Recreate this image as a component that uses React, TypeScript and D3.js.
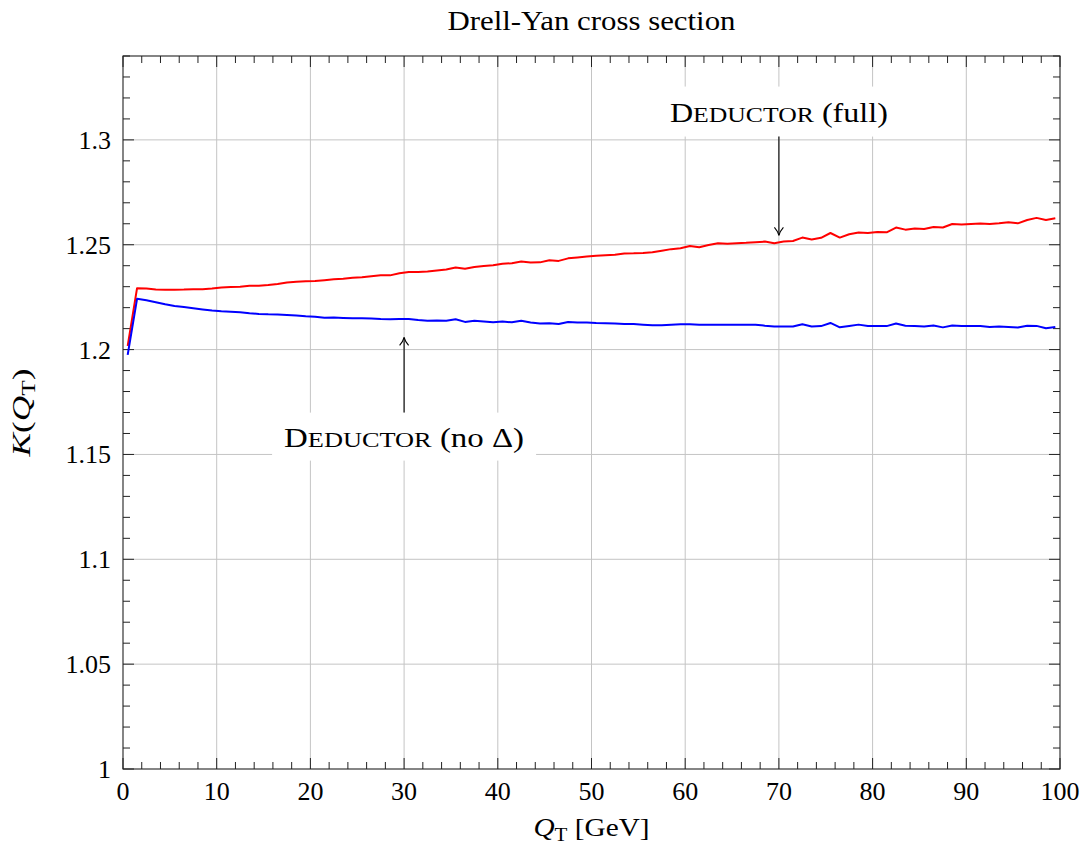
import React from "react";
import * as d3 from "d3";

const qT = [
  0.5, 1.5, 2.5, 3.5, 4.5, 5.5, 6.5, 7.5, 8.5, 9.5,
  10.5, 11.5, 12.5, 13.5, 14.5, 15.5, 16.5, 17.5, 18.5, 19.5,
  20.5, 21.5, 22.5, 23.5, 24.5, 25.5, 26.5, 27.5, 28.5, 29.5,
  30.5, 31.5, 32.5, 33.5, 34.5, 35.5, 36.5, 37.5, 38.5, 39.5,
  40.5, 41.5, 42.5, 43.5, 44.5, 45.5, 46.5, 47.5, 48.5, 49.5,
  50.5, 51.5, 52.5, 53.5, 54.5, 55.5, 56.5, 57.5, 58.5, 59.5,
  60.5, 61.5, 62.5, 63.5, 64.5, 65.5, 66.5, 67.5, 68.5, 69.5,
  70.5, 71.5, 72.5, 73.5, 74.5, 75.5, 76.5, 77.5, 78.5, 79.5,
  80.5, 81.5, 82.5, 83.5, 84.5, 85.5, 86.5, 87.5, 88.5, 89.5,
  90.5, 91.5, 92.5, 93.5, 94.5, 95.5, 96.5, 97.5, 98.5, 99.5,
];

const kFull = [
  1.2017, 1.2293, 1.2291, 1.2286, 1.2285, 1.2285, 1.2286, 1.2288, 1.2288, 1.2291,
  1.2296, 1.2299, 1.2300, 1.2304, 1.2305, 1.2308, 1.2313, 1.2320, 1.2323, 1.2326,
  1.2327, 1.2331, 1.2335, 1.2338, 1.2342, 1.2345, 1.2350, 1.2354, 1.2354, 1.2364,
  1.2370, 1.2370, 1.2372, 1.2377, 1.2382, 1.2391, 1.2386, 1.2394, 1.2399, 1.2402,
  1.2409, 1.2412, 1.2420, 1.2415, 1.2416, 1.2426, 1.2423, 1.2435, 1.2439, 1.2444,
  1.2448, 1.2450, 1.2452, 1.2458, 1.2459, 1.2461, 1.2464, 1.2471, 1.2479, 1.2483,
  1.2494, 1.2488, 1.2499, 1.2507, 1.2505, 1.2507, 1.2509, 1.2512, 1.2515, 1.2507,
  1.2515, 1.2518, 1.2534, 1.2525, 1.2533, 1.2556, 1.2534, 1.2550, 1.2558, 1.2556,
  1.2561, 1.2559, 1.2582, 1.2572, 1.2577, 1.2575, 1.2585, 1.2582, 1.2599, 1.2597,
  1.2599, 1.2601, 1.2599, 1.2602, 1.2607, 1.2602, 1.2618, 1.2628, 1.2618, 1.2626,
];

const kNoDelta = [
  1.1975, 1.2242, 1.2235, 1.2226, 1.2216, 1.2208, 1.2203, 1.2197, 1.2191, 1.2186,
  1.2183, 1.2181, 1.2178, 1.2173, 1.2170, 1.2168, 1.2167, 1.2165, 1.2162, 1.2159,
  1.2157, 1.2152, 1.2153, 1.2151, 1.2149, 1.2149, 1.2148, 1.2146, 1.2145, 1.2146,
  1.2146, 1.2141, 1.2137, 1.2139, 1.2138, 1.2145, 1.2132, 1.2137, 1.2134, 1.2130,
  1.2134, 1.2130, 1.2137, 1.2129, 1.2124, 1.2126, 1.2122, 1.2132, 1.2129, 1.2129,
  1.2127, 1.2126, 1.2124, 1.2122, 1.2122, 1.2119, 1.2116, 1.2116, 1.2119, 1.2121,
  1.2121, 1.2119, 1.2119, 1.2119, 1.2119, 1.2119, 1.2119, 1.2119, 1.2114, 1.2110,
  1.2110, 1.2110, 1.2121, 1.2110, 1.2112, 1.2127, 1.2106, 1.2113, 1.2119, 1.2113,
  1.2113, 1.2112, 1.2124, 1.2114, 1.2112, 1.2110, 1.2115, 1.2106, 1.2115, 1.2112,
  1.2112, 1.2113, 1.2108, 1.2110, 1.2108, 1.2105, 1.2114, 1.2113, 1.2102, 1.2108,
];

const xMajorTicks = [0, 10, 20, 30, 40, 50, 60, 70, 80, 90, 100];
const yMajorTicks = [1, 1.05, 1.1, 1.15, 1.2, 1.25, 1.3];
const xDomain: [number, number] = [0, 100];
const yDomain: [number, number] = [1, 1.34];
const titleText = "Drell-Yan cross section";

const W = 1087;
const H = 845;
const left = 123;
const right = 1060;
const top = 56;
const bottom = 769;
const FONT = "'Liberation Serif', 'Times New Roman', serif";

function SmallCaps({ word, size }: { word: string; size: number }) {
  return (
    <>
      <tspan>{word[0]}</tspan>
      <tspan fontSize={size * 0.8}>{word.slice(1).toUpperCase()}</tspan>
    </>
  );
}

export default function App() {
  const x = d3.scaleLinear().domain(xDomain).range([left, right]);
  const y = d3.scaleLinear().domain(yDomain).range([bottom, top]);

  const xMinor = d3.range(xDomain[0], xDomain[1] + 0.001, 2).filter((v) => Math.abs(v % 10) > 0.01);
  const yMinor = d3.range(1, 1.3401, 0.01).filter((v) => Math.abs(Math.round(v * 100) % 5) !== 0);

  const line = d3
    .line<number>()
    .x((_, i) => x(qT[i]))
    .y((d) => y(d));

  const fs = 26;
  const majorLen = 11;
  const minorLen = 7;
  const axisColor = "#222";

  const fullX = x(70);
  const fullTipY = y(1.2545);
  const fullLabelY = y(1.3135);
  const noX = x(30);
  const noTipY = y(1.2058);
  const noLabelY = y(1.1585);

  const arrowHead = (tx: number, ty: number, dir: 1 | -1) => {
    const b = ty - dir * 8;
    return `M${tx - 4.5},${b} Q${tx - 1},${ty - dir * 4} ${tx},${ty} Q${tx + 1},${ty - dir * 4} ${tx + 4.5},${b}`;
  };

  return (
    <svg width={W} height={H} style={{ display: "block", position: "absolute", left: 0, top: 0 }}>
      <rect x={0} y={0} width={W} height={H} fill="#fff" />
      <g stroke="#c4c4c4" strokeWidth={1}>
        {xMajorTicks.slice(1, -1).map((t) => (
          <line key={"gx" + t} x1={x(t)} x2={x(t)} y1={top} y2={bottom} />
        ))}
        {yMajorTicks.slice(1).map((t) => (
          <line key={"gy" + t} x1={left} x2={right} y1={y(t)} y2={y(t)} />
        ))}
      </g>
      <g stroke={axisColor} strokeWidth={1}>
        {xMajorTicks.map((t) => (
          <g key={"xt" + t}>
            <line x1={x(t)} x2={x(t)} y1={bottom} y2={bottom - majorLen} />
            <line x1={x(t)} x2={x(t)} y1={top} y2={top + majorLen} />
          </g>
        ))}
        {xMinor.map((t) => (
          <g key={"xm" + t}>
            <line x1={x(t)} x2={x(t)} y1={bottom} y2={bottom - minorLen} />
            <line x1={x(t)} x2={x(t)} y1={top} y2={top + minorLen} />
          </g>
        ))}
        {yMajorTicks.map((t) => (
          <g key={"yt" + t}>
            <line x1={left} x2={left + majorLen} y1={y(t)} y2={y(t)} />
            <line x1={right} x2={right - majorLen} y1={y(t)} y2={y(t)} />
          </g>
        ))}
        {yMinor.map((t) => (
          <g key={"ym" + t}>
            <line x1={left} x2={left + minorLen} y1={y(t)} y2={y(t)} />
            <line x1={right} x2={right - minorLen} y1={y(t)} y2={y(t)} />
          </g>
        ))}
      </g>
      <path d={line(kFull) || ""} fill="none" stroke="#ff0000" strokeWidth={2} strokeLinejoin="round" />
      <path d={line(kNoDelta) || ""} fill="none" stroke="#0000ff" strokeWidth={2} strokeLinejoin="round" />
      <rect x={left} y={top} width={right - left} height={bottom - top} fill="none" stroke={axisColor} strokeWidth={1.1} />
      <g fontFamily={FONT} fontSize={fs} fill="#000">
        {xMajorTicks.map((t) => (
          <text key={"xl" + t} x={x(t)} y={bottom + 31} textAnchor="middle">
            {String(t)}
          </text>
        ))}
        {yMajorTicks.map((t) => (
          <text key={"yl" + t} x={left - 12} y={y(t) + 9} textAnchor="end">
            {String(+t.toFixed(2))}
          </text>
        ))}
      </g>
      <text
        x={(left + right) / 2}
        y={30}
        textAnchor="middle"
        fontFamily={FONT}
        fontSize={27}
        textLength={288}
        lengthAdjust="spacingAndGlyphs"
      >
        {titleText}
      </text>
      <text
        x={(left + right) / 2}
        y={836}
        textAnchor="middle"
        fontFamily={FONT}
        fontSize={fs}
        textLength={116}
        lengthAdjust="spacingAndGlyphs"
      >
        <tspan fontStyle="italic">Q</tspan>
        <tspan fontSize={fs * 0.72} dy={5}>T</tspan>
        <tspan dy={-5}> [GeV]</tspan>
      </text>
      <text
        transform={`translate(30, ${(top + bottom) / 2}) rotate(-90)`}
        textAnchor="middle"
        fontFamily={FONT}
        fontSize={fs}
        textLength={88}
        lengthAdjust="spacingAndGlyphs"
      >
        <tspan fontStyle="italic">K</tspan>
        <tspan>(</tspan>
        <tspan fontStyle="italic">Q</tspan>
        <tspan fontSize={fs * 0.72} dy={5}>T</tspan>
        <tspan dy={-5}>)</tspan>
      </text>
      <rect x={fullX - 120} y={fullLabelY - 25} width={240} height={50} fill="#fff" />
      <line x1={fullX} x2={fullX} y1={fullLabelY + 25} y2={fullTipY} stroke="#000" strokeWidth={1.1} />
      <path d={arrowHead(fullX, fullTipY, 1)} fill="none" stroke="#000" strokeWidth={1.1} />
      <text
        x={fullX}
        y={fullLabelY + 10}
        textAnchor="middle"
        fontFamily={FONT}
        fontSize={27}
        textLength={218}
        lengthAdjust="spacingAndGlyphs"
      >
        <SmallCaps word="Deductor" size={27} />
        <tspan> (full)</tspan>
      </text>
      <rect x={noX - 132} y={noLabelY - 24} width={264} height={48} fill="#fff" />
      <line x1={noX} x2={noX} y1={noLabelY - 24} y2={noTipY} stroke="#000" strokeWidth={1.1} />
      <path d={arrowHead(noX, noTipY, -1)} fill="none" stroke="#000" strokeWidth={1.1} />
      <text
        x={noX}
        y={noLabelY + 10}
        textAnchor="middle"
        fontFamily={FONT}
        fontSize={27}
        textLength={240}
        lengthAdjust="spacingAndGlyphs"
      >
        <SmallCaps word="Deductor" size={27} />
        <tspan> (no Δ)</tspan>
      </text>
    </svg>
  );
}
